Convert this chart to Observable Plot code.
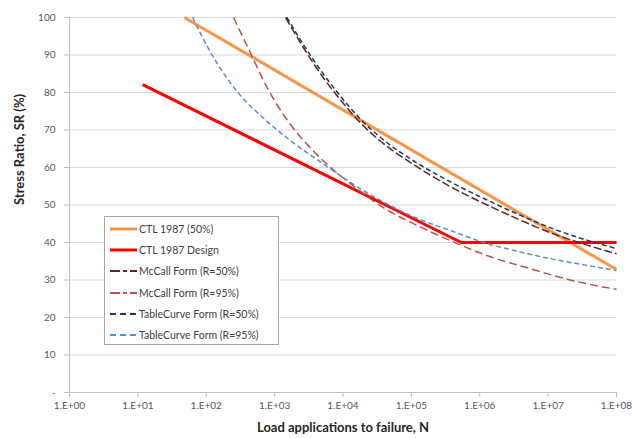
<!DOCTYPE html>
<html>
<head>
<meta charset="utf-8">
<script src="https://cdn.jsdelivr.net/npm/d3@7"></script>
<script src="https://cdn.jsdelivr.net/npm/@observablehq/plot@0.6"></script>
<style>
  html, body { margin: 0; padding: 0; background: #fff; }
  #wrap { position: relative; width: 632px; height: 438px; }
  #legend {
    position: absolute; left: 104px; top: 216px; width: 173px; height: 127px;
    border: 1px solid #a6a6a6; background: #fff;
    font-family: Lato, "Open Sans", sans-serif; font-size: 10.5px; color: #404040;
  }
  .item { position: absolute; left: 5px; height: 14px; display: flex; align-items: center; }
  .item svg { width: 27px; height: 8px; margin-right: 2px; }
</style>
</head>
<body>
<div id="wrap"></div>
<script>
// ---- data (log10 N, stress ratio %) ----
const seriesNames = ["CTL 1987 (50%)", "CTL 1987 Design", "McCall Form (R=50%)", "McCall Form (R=95%)", "TableCurve Form (R=50%)", "TableCurve Form (R=95%)"];
const seriesColors = ["#f79646", "#ff0000", "#632523", "#c0504d", "#1f3864", "#558ed5"];
const seriesWidths = [3, 3, 1.5, 1.5, 1.5, 1.5];
const seriesDash = [null, null, "8,3", "8,4", "5,3", "5,3"];

const ctl50LogN = [1.68, 8.0];
const ctl50SR = [100, 32.8];

const ctlDesignLogN = [1.07, 5.73, 8.0];
const ctlDesignSR = [82.1, 40, 40];

const mccall50LogN = [3.16, 3.42, 3.71, 3.92, 4.25, 4.55, 5.03, 5.61, 6.11, 6.59, 7.08, 7.57, 8.0];
const mccall50SR = [100, 92, 84, 79, 72, 67, 60.8, 54.5, 50, 46, 42.3, 39.3, 37];

const mccall95LogN = [2.40, 2.65, 2.89, 3.19, 3.52, 3.77, 4.11, 4.59, 5.09, 5.57, 6.11, 6.78, 7.28, 8.0];
const mccall95SR = [100, 90.4, 81.3, 72.5, 65.3, 60.8, 55.7, 49.3, 44.5, 40.5, 36.5, 32.8, 30.2, 27.5];

const table50LogN = [3.18, 3.42, 3.71, 3.92, 4.25, 4.55, 5.03, 5.61, 6.11, 6.59, 7.08, 7.57, 8.0];
const table50SR = [100, 92.8, 85, 80, 73, 68, 61.8, 55.8, 51.3, 47.3, 43.6, 40.6, 38.4];

const table95LogN = [1.80, 2.06, 2.45, 2.84, 3.23, 3.71, 4.11, 4.59, 5.09, 5.57, 6.11, 6.59, 7.08, 7.57, 8.0];
const table95SR = [100, 90.8, 80.3, 73.1, 67.2, 61, 56.0, 50.8, 46.4, 43.2, 39.7, 37.5, 35.5, 33.9, 32.5];

const xTickExponents = [0, 1, 2, 3, 4, 5, 6, 7, 8];
const yTicks = [0, 10, 20, 30, 40, 50, 60, 70, 80, 90, 100];
const xLabel = "Load applications to failure, N";
const yLabel = "Stress Ratio, SR (%)";

// ---- build tables ----
const allLogN = [ctl50LogN, ctlDesignLogN, mccall50LogN, mccall95LogN, table50LogN, table95LogN];
const allSR = [ctl50SR, ctlDesignSR, mccall50SR, mccall95SR, table50SR, table95SR];
const series = seriesNames.map((name, i) => ({
  name, color: seriesColors[i], width: seriesWidths[i], dash: seriesDash[i],
  rows: allLogN[i].map((l, j) => ({N: Math.pow(10, l), SR: allSR[i][j]}))
}));

const fmtX = d => "1.E+" + String(Math.round(Math.log10(d))).padStart(2, "0");

const marks = [
  Plot.gridY(yTicks, {stroke: "#d9d9d9", strokeOpacity: 1, strokeWidth: 1}),
  Plot.ruleX([1], {stroke: "#bfbfbf"}),
  Plot.ruleY([0], {stroke: "#bfbfbf"}),
  Plot.axisX(xTickExponents.map(e => Math.pow(10, e)), {
    tickFormat: fmtX, tickSize: 5, tickPadding: 4, stroke: "#bfbfbf", fill: "#595959",
    fontSize: 10, label: null
  }),
  Plot.axisY(yTicks, {
    tickFormat: d => d === 0 ? "-" : String(d), tickSize: 5, tickPadding: 9,
    stroke: "#bfbfbf", fill: "#595959", fontSize: 10, label: null
  }),
  ...series.map(s => Plot.line(s.rows, {
    x: "N", y: "SR", stroke: s.color, strokeWidth: s.width,
    strokeDasharray: s.dash, strokeLinecap: "butt", strokeLinejoin: "round",
    curve: s.rows.length > 3 ? "monotone-x" : "linear"
  })),
  Plot.text([xLabel], {frameAnchor: "bottom", dy: 39, fontWeight: "bold", fontSize: 13, fill: "#262626"}),
  Plot.text([yLabel], {frameAnchor: "left", rotate: -90, dx: -50, fontWeight: "bold", fontSize: 13, fill: "#262626"})
];

const chart = Plot.plot({
  width: 632, height: 438,
  marginLeft: 69, marginRight: 16, marginTop: 17, marginBottom: 46,
  style: {fontFamily: "Lato, 'Open Sans', sans-serif", background: "#fff"},
  x: {type: "log", domain: [1, 1e8], axis: null},
  y: {domain: [0, 100], axis: null},
  marks
});
document.getElementById("wrap").appendChild(chart);

// ---- legend (inside the plot area, as in the reference) ----
const legend = document.createElement("div");
legend.id = "legend";
series.forEach((s, i) => {
  const item = document.createElement("div");
  item.className = "item";
  item.style.top = (5 + i * 21.2) + "px";
  const dash = s.dash ? (i === 2 || i === 3 ? "10,3,4,3" : "6,4") : "";
  item.innerHTML = `<svg viewBox="0 0 27 8"><line x1="0" y1="4" x2="27" y2="4" stroke="${s.color}" stroke-width="${s.width === 3 ? 3 : 2}" ${dash ? `stroke-dasharray="${dash}"` : ""}/></svg><span>${s.name}</span>`;
  legend.appendChild(item);
});
document.getElementById("wrap").appendChild(legend);
</script>
</body>
</html>
